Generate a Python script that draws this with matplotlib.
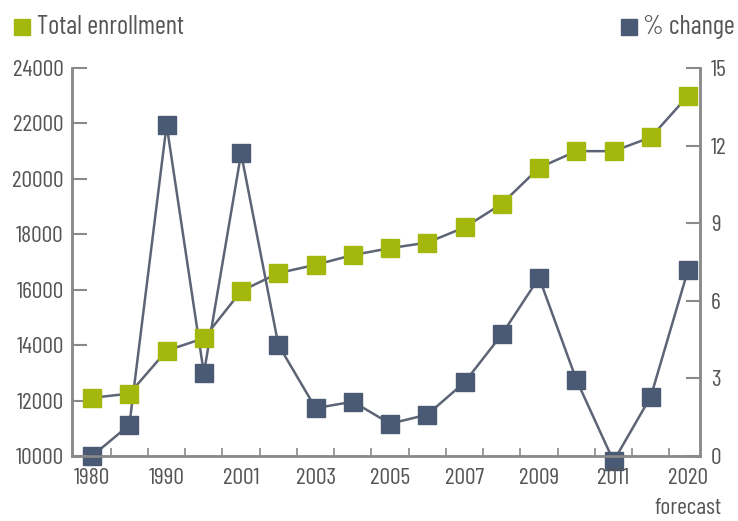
import matplotlib
matplotlib.use("Agg")
import matplotlib.pyplot as plt
from matplotlib.lines import Line2D

categories = ["1980", "", "1990", "", "2001", "", "2003", "", "2005", "",
              "2007", "", "2009", "", "2011", "", "2020\nforecast"]
enrollment = [12100, 12250, 13800, 14250, 15950, 16600, 16900, 17250, 17500,
              17700, 18250, 19100, 20400, 21000, 21000, 21500, 23000]
pct_change = [0.0, 1.2, 12.8, 3.2, 11.7, 4.3, 1.85, 2.1, 1.25, 1.6, 2.85,
              4.7, 6.9, 2.95, -0.2, 2.3, 7.2]
left_ticks = [10000, 12000, 14000, 16000, 18000, 20000, 22000, 24000]
right_ticks = [0, 3, 6, 9, 12, 15]

GREEN = "#a4b70c"
BLUE = "#4b5a74"
LINE = "#5d6475"
TXT = "#555555"
SPINE = "#8a8a8a"

plt.rcParams['font.family'] = ['Barlow Condensed', 'DejaVu Sans']

fig = plt.figure(figsize=(7.38, 5.21), dpi=100)
ax = fig.add_axes([72/738, 1-456/521, (700-72)/738, (456-68)/521])
ax2 = ax.twinx()

x = list(range(len(categories)))
ax.plot(x, enrollment, color=LINE, lw=1.8, marker="s", ms=13,
        mfc=GREEN, mec=GREEN, zorder=3, clip_on=False)
ax2.plot(x, pct_change, color=LINE, lw=1.8, marker="s", ms=13,
         mfc=BLUE, mec=BLUE, zorder=3, clip_on=False)

ax.set_xlim(-0.54, 16.32)
ax.set_ylim(10000, 24000)
ax2.set_ylim(0, 15)
ax.set_yticks(left_ticks)
ax.set_yticklabels([str(v) for v in left_ticks])
ax2.set_yticks(right_ticks)
ax2.set_yticklabels([str(v) for v in right_ticks])

ax.set_xticks(x)
ax.set_xticklabels(categories, linespacing=1.55)
ax.set_xticks([i + 0.5 for i in range(len(categories) - 1)], minor=True)
ax.tick_params(axis="x", which="major", length=0, pad=9, labelsize=17, labelcolor=TXT)
ax.tick_params(axis="x", which="minor", direction="in", length=6, width=1.2, color=SPINE)
ax.tick_params(axis="y", direction="in", length=11, width=1.5, color=SPINE,
               labelsize=17, labelcolor=TXT, pad=6)
ax2.tick_params(axis="y", direction="in", length=10, width=1.5, color=SPINE,
                labelsize=17, labelcolor=TXT, pad=8)

for a in (ax, ax2):
    a.spines["top"].set_visible(False)
    for s in ("left", "right", "bottom"):
        a.spines[s].set_color(SPINE)
        a.spines[s].set_linewidth(1.8)
ax.set_zorder(ax2.get_zorder() + 1)
ax.patch.set_visible(False)

# legend
fig.add_artist(Line2D([22/738], [1-27/521], marker="s", ms=11, color=GREEN,
                      transform=fig.transFigure, ls="none"))
fig.text(37/738, 1-27/521, "Total enrollment", fontsize=19, color=TXT,
         va="center", ha="left")
fig.add_artist(Line2D([629/738], [1-27/521], marker="s", ms=11, color=BLUE,
                      transform=fig.transFigure, ls="none"))
fig.text(735/738, 1-27/521, "% change", fontsize=19, color=TXT,
         va="center", ha="right")

fig.savefig("out.png", dpi=100)
